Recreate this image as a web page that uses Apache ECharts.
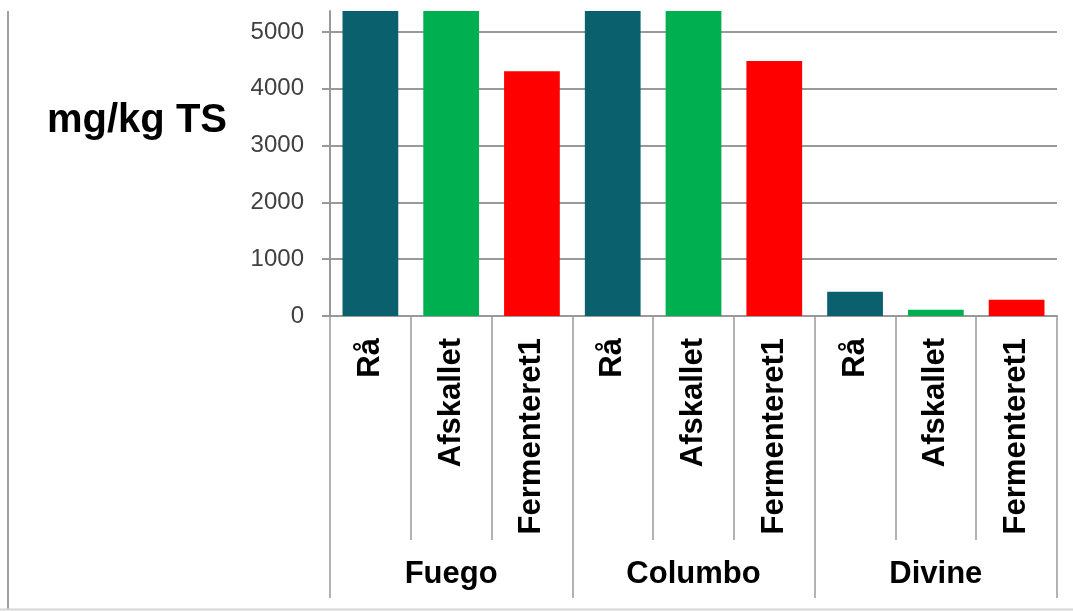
<!DOCTYPE html>
<html>
<head>
<meta charset="utf-8">
<script src="https://cdn.jsdelivr.net/npm/echarts@6/dist/echarts.min.js"></script>
<style>
  html, body { margin: 0; padding: 0; background: #ffffff; }
  #chart { width: 1073px; height: 611px; }
</style>
</head>
<body>
<div id="chart"></div>
<script>
// ---- data ----
const groups = ['Fuego', 'Columbo', 'Divine'];
const treatments = ['Rå', 'Afskallet', 'Fermenteret1'];
const valuesFuego = [6200, 6000, 4310];
const valuesColumbo = [6300, 6100, 4490];
const valuesDivine = [425, 110, 285];
const yTickValues = [0, 1000, 2000, 3000, 4000, 5000];
const yAxisMax = 5370;
const yAxisTitle = 'mg/kg TS';
const treatmentColors = ['#0b606d', '#00b050', '#ff0000'];

// ---- build ----
const groupValues = [valuesFuego, valuesColumbo, valuesDivine];
const leafKeys = [];
const barData = [];
groups.forEach(function (g, gi) {
  treatments.forEach(function (t, ti) {
    leafKeys.push(g + '|' + t);
    barData.push({ value: groupValues[gi][ti], itemStyle: { color: treatmentColors[ti] } });
  });
});

const lineGray = '#999999';
const font = 'Arial, "Liberation Sans", Helvetica, sans-serif';

const chart = echarts.init(document.getElementById('chart'), null, { renderer: 'canvas' });
chart.setOption({
  animation: false,
  backgroundColor: '#ffffff',
  textStyle: { fontFamily: font },
  title: {
    text: yAxisTitle,
    left: 47,
    top: 101,
    padding: 0,
    textStyle: { fontSize: 40, fontWeight: 'bold', color: '#000000', fontFamily: font }
  },
  graphic: [
    { type: 'line', shape: { x1: 8, y1: 11, x2: 8, y2: 610 }, style: { stroke: '#a0a0a0', lineWidth: 2 } },
    { type: 'line', shape: { x1: 0, y1: 609.5, x2: 1073, y2: 609.5 }, style: { stroke: '#d6d6d6', lineWidth: 2 } }
  ],
  grid: { left: 330, right: 16, top: 11, bottom: 295, containLabel: false },
  xAxis: [
    {
      type: 'category',
      data: leafKeys,
      position: 'bottom',
      axisLine: { show: true, lineStyle: { color: lineGray, width: 2 } },
      axisTick: { show: true, length: 224, lineStyle: { color: lineGray, width: 1.5 } },
      axisLabel: {
        interval: 0,
        rotate: 90,
        margin: 22,
        fontSize: 31,
        fontWeight: 'bold',
        color: '#000000',
        fontFamily: font,
        formatter: function (v) { return v.split('|')[1]; }
      },
      splitLine: { show: false }
    },
    {
      type: 'category',
      data: groups,
      position: 'bottom',
      axisLine: { show: false },
      axisTick: { show: true, length: 282, lineStyle: { color: lineGray, width: 1.5 } },
      axisLabel: {
        interval: 0,
        margin: 243,
        fontSize: 31,
        fontWeight: 'bold',
        color: '#000000',
        fontFamily: font
      },
      splitLine: { show: false }
    }
  ],
  yAxis: {
    type: 'value',
    min: 0,
    max: yAxisMax,
    interval: 1000,
    axisLine: { show: true, lineStyle: { color: lineGray, width: 2 } },
    axisTick: { show: true, inside: false, length: 8, lineStyle: { color: lineGray, width: 2 } },
    axisLabel: {
      margin: 26,
      fontSize: 24,
      color: '#404040',
      fontFamily: font,
      showMaxLabel: false,
      formatter: function (v) { return yTickValues.indexOf(v) >= 0 ? String(v) : ''; }
    },
    splitLine: { show: true, showMaxLine: false, lineStyle: { color: lineGray, width: 2 } }
  },
  series: [
    {
      type: 'bar',
      xAxisIndex: 0,
      data: barData,
      barCategoryGap: '31%',
      clip: true
    }
  ]
});
</script>
</body>
</html>
